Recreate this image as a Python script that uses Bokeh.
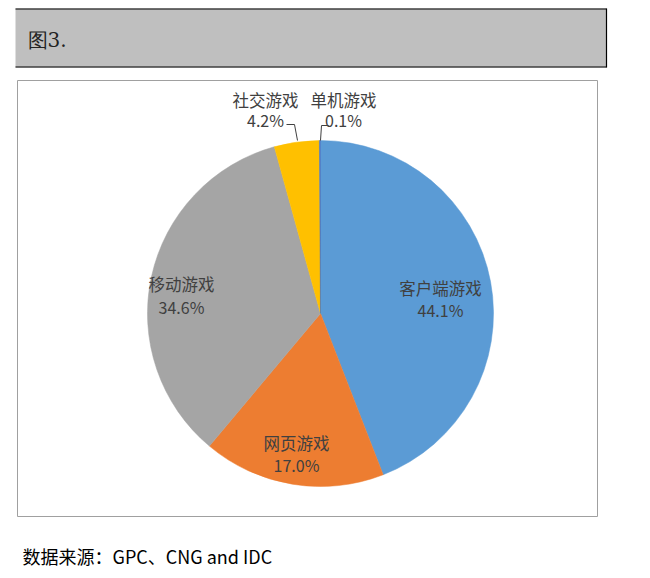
import math
from bokeh.plotting import figure
from bokeh.models import Range1d
from bokeh.core.properties import value
from bokeh.embed import file_html
from bokeh.resources import INLINE

# data
categories = ["客户端游戏", "网页游戏", "移动游戏", "社交游戏", "单机游戏"]
shares = [44.1, 17.0, 34.6, 4.2, 0.1]
colors = ["#5B9BD5", "#ED7D31", "#A5A5A5", "#FFC000", "#4472C4"]
title_text = "图3."
source_text = "数据来源：GPC、CNG and IDC"

W, H = 634, 570
CJK = "Noto Sans CJK SC"


def px(x):
    return x


def py(y):
    return H - y


p = figure(width=W, height=H, output_backend="svg", toolbar_location=None,
           x_range=Range1d(0, W), y_range=Range1d(0, H), min_border=0)
p.axis.visible = False
p.grid.visible = False
p.outline_line_color = None
p.background_fill_color = "white"

# header band
p.quad(left=px(15), right=px(606), top=py(8), bottom=py(67),
       fill_color="#BFBFBF", line_color=None)
p.line([px(15), px(606)], [py(8.5), py(8.5)], line_color="black", line_width=1.2)
p.line([px(15), px(606)], [py(66.5), py(66.5)], line_color="black", line_width=1.2)
p.line([px(606), px(606)], [py(8), py(67)], line_color="black", line_width=1.2)
p.text(x=[px(27)], y=[py(39)], text=[title_text], text_font=value("DejaVu Serif"),
       text_font_size="20px", text_color="#222222", text_baseline="middle")

# chart frame
p.quad(left=px(17), right=px(597), top=py(80), bottom=py(516),
       fill_color="white", line_color="#A0A0A0", line_width=1)

# pie
cx, cy, r = px(320), py(313), 173
total = sum(shares)
starts, ends = [], []
acc = 0.0
for s in shares:
    starts.append(math.pi / 2 - 2 * math.pi * acc / total)
    acc += s
    ends.append(math.pi / 2 - 2 * math.pi * acc / total)
p.wedge(x=cx, y=cy, radius=r, start_angle=starts, end_angle=ends,
        direction="clock", fill_color=colors, line_color=colors, line_width=0.5)

# labels (name line, percent line)
label_pos = [(440, 287, 309), (296, 442, 464), (181, 283, 306), (265, 99, 119), (343, 99, 119)]
for name, s, (lx, ly1, ly2) in zip(categories, shares, label_pos):
    p.text(x=[px(lx)], y=[py(ly1)], text=[name], text_font=value(CJK),
           text_font_size="16.5px", text_color="#404040",
           text_align="center", text_baseline="middle")
    p.text(x=[px(lx)], y=[py(ly2)], text=[f"{s:.1f}%"], text_font=value(CJK),
           text_font_size="16px", text_color="#404040",
           text_align="center", text_baseline="middle")

# leader lines for the small slices
p.line([px(286), px(294), px(297)], [py(124), py(124), py(140)], line_color="#404040", line_width=1)
p.line([px(320), px(321), px(328)], [py(140), py(125), py(125)], line_color="#404040", line_width=1)

# source note
p.text(x=[px(22)], y=[py(555)], text=[source_text], text_font=value(CJK),
       text_font_size="18px", text_color="black", text_baseline="middle")

open("out.html", "w").write(file_html(p, INLINE))
